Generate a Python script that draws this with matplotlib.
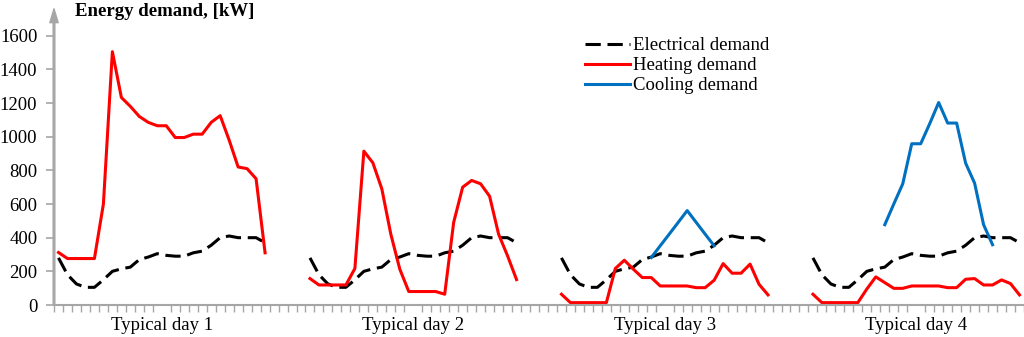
import numpy as np
import matplotlib
matplotlib.use("Agg")
from matplotlib import pyplot as plt

plt.rcParams['font.family'] = ['Liberation Serif', 'DejaVu Serif']

nan = np.nan
day_labels = ['Typical day 1', 'Typical day 2', 'Typical day 3', 'Typical day 4']

# hourly values, kW (24 h per typical day)
elec = [280, 180, 125, 105, 105, 150, 200, 215, 225, 270, 285, 305,
        295, 290, 290, 310, 320, 355, 400, 410, 400, 400, 400, 370]
heat_d1 = [312, 276, 276, 276, 276, 600, 1505, 1233, 1180, 1120, 1085, 1065,
           1065, 995, 995, 1015, 1015, 1085, 1125, 980, 820, 810, 750, 310]
heat_d2 = [157, 119, 119, 119, 119, 217, 914, 845, 690, 421, 213, 80,
           80, 80, 80, 64, 491, 700, 740, 720, 646, 421, 292, 151]
heat_d3 = [64, 14, 14, 14, 14, 14, 217, 266, 213, 163, 163, 113,
           113, 113, 113, 103, 103, 147, 246, 189, 189, 243, 123, 60]
heat_d4 = [64, 14, 14, 14, 14, 14, 95, 167, 133, 99, 99, 113,
           113, 113, 113, 103, 103, 153, 157, 119, 119, 149, 127, 60]
cool_d1 = [nan] * 24
cool_d2 = [nan] * 24
cool_d3 = [nan] * 10 + [282, 352, 421, 491, 561, 491, 421, 352] + [nan] * 6
cool_d4 = [nan] * 8 + [477, 600, 720, 958, 958, 1077, 1203, 1081, 1081,
                       843, 724, 477, 358] + [nan] * 3

gap = [nan] * 4


def join(days):
    out = []
    for k, d in enumerate(days):
        out += list(d)
        if k < len(days) - 1:
            out += gap
    return np.array(out, dtype=float)


e = join([elec, elec, elec, elec])
h = join([heat_d1, heat_d2, heat_d3, heat_d4])
c = join([cool_d1, cool_d2, cool_d3, cool_d4])
x = np.arange(len(e))

grey = '#a6a6a6'
fig = plt.figure(figsize=(10.24, 3.37), dpi=100)
ax = fig.add_axes([54 / 1024, 32 / 337, 970 / 1024, 269.3 / 337])

ax.plot(x, e, color='black', lw=2.2, dashes=(5, 2.2), label='Electrical demand')
ax.plot(x, h, color='#ff0000', lw=2.2, label='Heating demand')
ax.plot(x, c, color='#0070c0', lw=2.2, label='Cooling demand')

ax.set_xlim(-0.5, len(e) - 0.5)
ax.set_ylim(0, 1600)
ax.set_yticks(range(0, 1601, 200))
ax.set_xticks([28 * k + 11.5 for k in range(4)], day_labels)
ax.set_xticks(np.arange(-0.5, len(e)), minor=True)

for s in ['top', 'right', 'left']:
    ax.spines[s].set_visible(False)
ax.spines['bottom'].set_color(grey)
ax.spines['bottom'].set_linewidth(1.5)
ax.tick_params(axis='x', which='major', length=0, pad=9, labelsize=13.5)
ax.tick_params(axis='x', which='minor', length=5, width=1, color=grey)
ax.tick_params(axis='y', length=6, width=1.2, color=grey, pad=6, labelsize=13.5)

# y axis with arrow
ax.annotate('', xy=(0, 1.1), xytext=(0, 0), xycoords='axes fraction',
            textcoords='axes fraction',
            arrowprops=dict(facecolor=grey, edgecolor=grey, width=1.2,
                            headwidth=6, headlength=10, shrink=0),
            annotation_clip=False)

fig.text(75 / 1024, 1 - 12 / 337, 'Energy demand, [kW]', fontsize=13.5,
         fontweight='bold', va='center', ha='left')

ax.legend(loc='upper left', bbox_to_anchor=(585 / 1024, 1 - 37 / 337),
          bbox_transform=fig.transFigure, frameon=False, fontsize=13.5,
          handlelength=2.4, handletextpad=0.15, labelspacing=0.16,
          borderpad=0, borderaxespad=0)

fig.savefig('out.png', dpi=100)
